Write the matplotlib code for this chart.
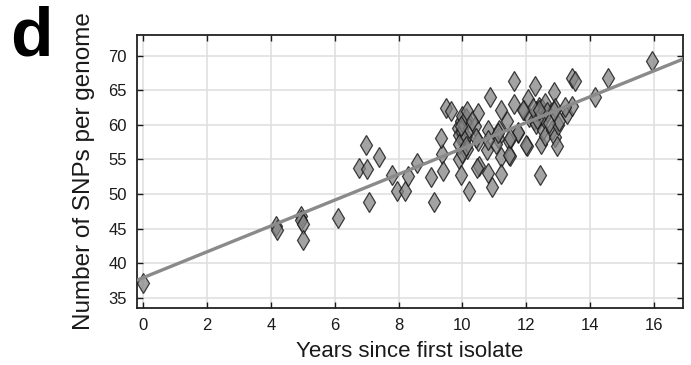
import numpy as np
import matplotlib.pyplot as plt

plt.rcParams['font.family'] = ['Liberation Sans', 'DejaVu Sans']

# years since first isolate / SNPs per genome
years = [
    0.0, 4.15, 4.2, 4.95, 4.95, 5.0, 5.0, 6.1, 6.97, 7.39,
    6.76, 7.02, 7.06, 7.8, 7.95, 8.19, 8.3, 8.57, 9.02, 9.1,
    9.35, 9.33, 9.38, 9.47, 9.65, 9.9, 9.96, 10.2,
    9.85, 9.9, 9.95, 10.0, 10.0, 10.05, 10.05, 10.1, 10.1, 10.15,
    9.9, 10.0, 10.2, 10.15, 9.95, 10.1,
    10.4, 10.5, 10.5, 10.53, 10.45, 10.76, 10.8, 10.8, 10.87, 10.93,
    11.1, 11.16, 11.2, 11.2, 11.2, 11.05, 11.4, 11.47, 11.5, 11.45,
    11.6, 11.63, 11.73, 11.94, 12.04, 12.02, 12.0, 12.1, 12.25, 12.27,
    12.3, 12.44, 12.46, 12.51, 12.6, 12.8, 12.87, 12.9, 12.9, 12.95,
    12.98, 13.03, 13.27, 13.43, 13.43, 13.53, 14.15, 14.57, 15.95,
    12.4, 12.5, 12.6, 12.3, 12.45, 12.55, 12.35, 12.65, 12.2, 12.7,
    10.3, 10.43, 10.8, 11.1, 11.73, 11.5, 12.87, 13.2, 12.4, 11.9,
]
snps = [
    37.1, 45.3, 44.8, 46.8, 46.2, 45.7, 43.4, 46.5, 57.1, 55.4,
    53.7, 53.6, 48.9, 52.7, 50.4, 50.4, 52.6, 54.5, 52.5, 48.8,
    55.8, 58.1, 53.4, 62.4, 62.0, 55.1, 52.8, 50.4,
    59.5, 58.5, 60.5, 61.3, 59.0, 57.8, 60.0, 58.2, 61.0, 56.5,
    57.3, 56.0, 59.5, 62.0, 59.8, 57.0,
    59.8, 61.7, 57.6, 54.1, 53.7, 56.4, 59.2, 53.1, 64.1, 51.0,
    58.1, 59.3, 62.2, 55.4, 52.9, 57.3, 60.6, 57.7, 55.5, 55.6,
    63.0, 66.3, 58.8, 62.2, 63.7, 56.9, 57.1, 61.2, 60.7, 65.6,
    60.2, 52.7, 57.25, 59.3, 58.4, 59.3, 64.7, 62.5, 58.3, 57.0,
    60.0, 60.6, 61.6, 62.75, 66.75, 66.4, 64.0, 66.75, 69.3,
    62.6, 62.3, 63.2, 62.0, 61.5, 61.0, 60.9, 61.8, 62.4, 60.3,
    60.5, 58.1, 57.8, 58.8, 59.0, 58.1, 62.0, 62.6, 62.2, 62.2,
]

# linear fit
fit_intercept = 37.9
fit_slope = 1.87

xticks = list(range(0, 17, 2))
yticks = list(range(35, 71, 5))

fig = plt.figure(figsize=(6.91, 3.65), dpi=100)
ax = fig.add_axes([0.198, 0.156, 0.790, 0.748])

ax.grid(True, color='#e0e0e0', linewidth=1.2, zorder=0)
ax.set_axisbelow(True)

ax.plot(years, snps, linestyle='none', marker='d', markersize=10.5,
        markerfacecolor=(0.52, 0.52, 0.52, 0.75), markeredgecolor=(0.08, 0.08, 0.08, 0.8),
        markeredgewidth=0.9, zorder=3)

xlim = (-0.2, 16.9)
xs = np.array(xlim)
ax.plot(xs, fit_intercept + fit_slope * xs, color='#8a8a8a', linewidth=2.4, zorder=4)

ax.set_xlim(*xlim)
ax.set_ylim(33.5, 73)
ax.set_xticks(xticks)
ax.set_yticks(yticks)
ax.tick_params(direction='in', length=4, width=1.0, top=True, right=True,
               labelsize=12, colors='#1a1a1a', pad=7)
for s in ax.spines.values():
    s.set_linewidth(1.3)
    s.set_color('#222222')

ax.set_xlabel('Years since first isolate', fontsize=16, labelpad=6, color='#1a1a1a')
ax.set_ylabel('Number of SNPs per genome', fontsize=17.5, labelpad=10, color='#1a1a1a')

fig.text(0.015, 0.985, 'd', fontsize=50, fontweight='bold', ha='left', va='top')

fig.savefig('out.png', dpi=100)
